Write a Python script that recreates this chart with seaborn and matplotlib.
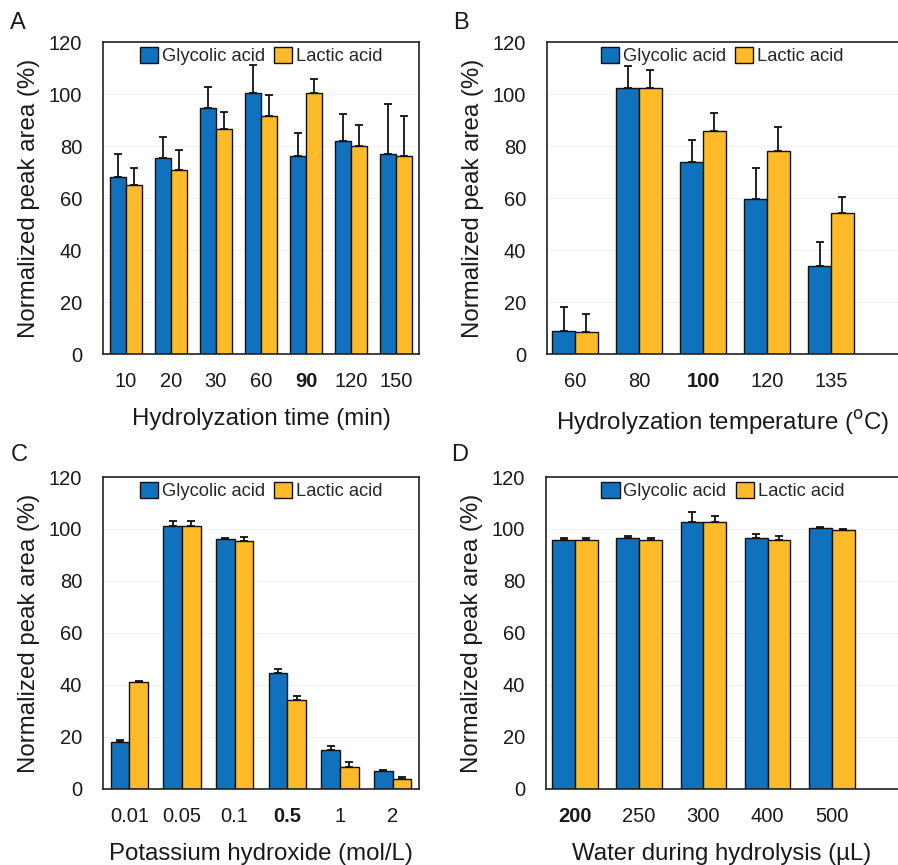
"""Normalized peak area of glycolic and lactic acid under four hydrolysis conditions."""

import matplotlib.pyplot as plt
import numpy as np
import pandas as pd
import seaborn as sns
from matplotlib.patches import Patch

BLUE = "#1071BD"
YELLOW = "#FDBB2A"
SERIES = ["Glycolic acid", "Lactic acid"]

# Panel A: hydrolyzation time (min)
time_labels = ["10", "20", "30", "60", "90", "120", "150"]
time_glycolic = [67.9, 75.4, 94.6, 100.5, 76.1, 82.1, 76.8]
time_glycolic_err = [8.9, 8.1, 8.1, 10.8, 8.9, 10.1, 19.2]
time_lactic = [64.9, 70.9, 86.4, 91.7, 100.4, 79.9, 76.2]
time_lactic_err = [6.7, 7.5, 6.8, 8.0, 5.2, 8.1, 15.5]

# Panel B: hydrolyzation temperature (degC)
temp_labels = ["60", "80", "100", "120", "135"]
temp_glycolic = [9.0, 102.4, 73.8, 59.5, 33.8]
temp_glycolic_err = [9.2, 8.2, 8.4, 12.1, 9.3]
temp_lactic = [8.3, 102.4, 85.8, 78.2, 54.3]
temp_lactic_err = [6.9, 6.7, 6.9, 9.3, 6.0]

# Panel C: potassium hydroxide (mol/L)
koh_labels = ["0.01", "0.05", "0.1", "0.5", "1", "2"]
koh_glycolic = [18.1, 101.2, 96.0, 44.8, 15.0, 6.9]
koh_glycolic_err = [0.6, 1.7, 0.7, 1.4, 1.6, 0.5]
koh_lactic = [41.0, 101.2, 95.3, 34.4, 8.3, 3.8]
koh_lactic_err = [0.5, 1.7, 1.6, 1.5, 2.2, 0.7]

# Panel D: water during hydrolysis (uL)
water_labels = ["200", "250", "300", "400", "500"]
water_glycolic = [95.9, 96.5, 102.6, 96.5, 100.3]
water_glycolic_err = [0.5, 0.9, 3.8, 1.4, 0.6]
water_lactic = [95.9, 95.9, 102.6, 95.9, 99.6]
water_lactic_err = [0.5, 0.5, 2.3, 1.3, 0.5]

W, H = 898, 865


def _panel_df(labels, glycolic, lactic, glycolic_err, lactic_err):
    return pd.DataFrame(
        {
            "condition": labels * 2,
            "series": [SERIES[0]] * len(labels) + [SERIES[1]] * len(labels),
            "value": glycolic + lactic,
            "err": glycolic_err + lactic_err,
        }
    )


def _draw_panel(ax, df, labels, xlabel, bold_label, xlim, letter, letter_xy, open_right, legend_x):
    sns.barplot(
        data=df,
        x="condition",
        y="value",
        hue="series",
        order=labels,
        hue_order=SERIES,
        palette=[BLUE, YELLOW],
        width=0.71,
        errorbar=None,
        edgecolor="#111111",
        linewidth=1.0,
        saturation=1,
        ax=ax,
        zorder=2,
    )
    # upward-only error bars at the bar centres
    bars = ax.patches[: len(df)]
    for patch, (_, row) in zip(bars, df.iterrows()):
        xc = patch.get_x() + patch.get_width() / 2
        ax.errorbar(
            xc, row["value"], yerr=[[0], [row["err"]]],
            fmt="none", ecolor="#111111", elinewidth=1.3, capsize=2.8, capthick=1.3, zorder=3,
        )

    ax.set_ylim(0, 120)
    ax.set_yticks(np.arange(0, 121, 20))
    ax.set_xlim(*xlim)
    ax.grid(axis="y", color="#f1f1f1", linewidth=0.8, zorder=0)
    ax.grid(axis="x", visible=False)
    ax.set_axisbelow(True)
    ax.tick_params(axis="both", length=0, labelsize=14.5, colors="#1a1a1a")
    ax.tick_params(axis="x", pad=13)
    ax.tick_params(axis="y", pad=15)
    for lbl in ax.get_xticklabels():
        if lbl.get_text() == bold_label:
            lbl.set_fontweight("bold")
    ax.set_xlabel(xlabel, fontsize=17.3, color="#1a1a1a", labelpad=12)
    ax.set_ylabel("Normalized peak area (%)", fontsize=17.3, color="#1a1a1a", labelpad=6)
    for spine in ax.spines.values():
        spine.set_color("#222222")
        spine.set_linewidth(1.2)
    if open_right:
        ax.spines["right"].set_visible(False)

    handles = [Patch(facecolor=c, edgecolor="#111111", linewidth=1.0) for c in (BLUE, YELLOW)]
    ax.legend(
        handles, SERIES, loc="upper center", ncol=2, frameon=False,
        fontsize=13.2, handlelength=1.0, handleheight=1.0, handletextpad=0.2,
        columnspacing=0.5, borderaxespad=0.0, borderpad=0.25,
        bbox_to_anchor=(legend_x, 1.0),
    )
    ax.figure.text(letter_xy[0] / W, 1 - letter_xy[1] / H, letter, fontsize=17,
                   color="#1a1a1a", ha="left", va="top")


sns.set_theme(style="white")
plt.rcParams["font.family"] = ["Liberation Sans", "DejaVu Sans"]

fig = plt.figure(figsize=(W / 100, H / 100), dpi=100)
ax_a = fig.add_axes([103 / W, 1 - 354 / H, (419 - 103) / W, (354 - 42) / H])
ax_b = fig.add_axes([547 / W, 1 - 354 / H, (898 - 547) / W, (354 - 42) / H])
ax_c = fig.add_axes([103 / W, 1 - 789 / H, (419 - 103) / W, (789 - 477) / H])
ax_d = fig.add_axes([546 / W, 1 - 789 / H, (898 - 546) / W, (789 - 477) / H])

_draw_panel(
    ax_a, _panel_df(time_labels, time_glycolic, time_lactic, time_glycolic_err, time_lactic_err),
    time_labels, "Hydrolyzation time (min)", "90", (-0.5, 6.5), "A", (10, 12), False, 0.5,
)
_draw_panel(
    ax_b, _panel_df(temp_labels, temp_glycolic, temp_lactic, temp_glycolic_err, temp_lactic_err),
    temp_labels, "Hydrolyzation temperature ($^{\\mathrm{o}}$C)", "100", (-0.44, 5.05), "B", (453, 12),
    True, (2.3 + 0.44) / (5.05 + 0.44),
)
_draw_panel(
    ax_c, _panel_df(koh_labels, koh_glycolic, koh_lactic, koh_glycolic_err, koh_lactic_err),
    koh_labels, "Potassium hydroxide (mol/L)", "0.5", (-0.5, 5.5), "C", (11, 444), False, 0.5,
)
_draw_panel(
    ax_d, _panel_df(water_labels, water_glycolic, water_lactic, water_glycolic_err, water_lactic_err),
    water_labels, "Water during hydrolysis (\u00b5L)", "200", (-0.45, 5.03), "D", (451, 444),
    True, (2.3 + 0.45) / (5.03 + 0.45),
)

fig.savefig("out.png", dpi=100)
